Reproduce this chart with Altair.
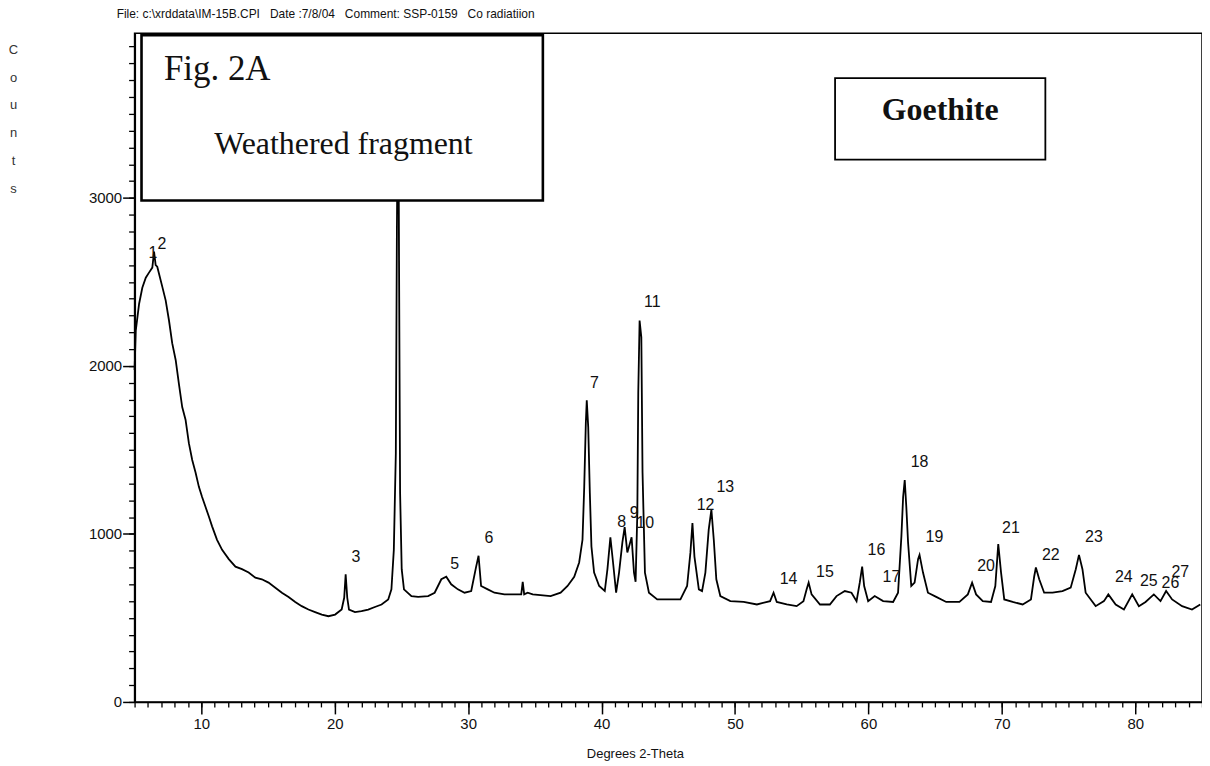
import altair as alt
import pandas as pd

# ---- diffractogram trace (degrees 2-theta, counts) ----
theta = [5.00, 5.09, 5.34, 5.58, 5.84, 6.08, 6.33, 6.46, 6.58, 6.70, 7.08, 7.33, 7.58, 7.82, 8.08,
         8.32, 8.57, 8.82, 9.07, 9.32, 9.57, 9.82, 10.06, 10.32, 10.56, 10.81, 11.18, 11.56, 12.06,
         12.56, 13.05, 13.55, 14.05, 14.54, 15.04, 15.55, 16.04, 16.54, 17.04, 17.53, 18.03, 18.53,
         19.03, 19.53, 20.03, 20.52, 20.71, 20.82, 20.94, 21.07, 21.52, 22.01, 22.51, 23.01, 23.51,
         24.01, 24.25, 24.43, 24.58, 24.66, 24.72, 24.78, 24.82, 24.90, 25.02, 25.19, 25.75, 26.25,
         27.00, 27.49, 27.99, 28.36, 28.73, 29.23, 29.73, 30.23, 30.60, 30.78, 30.97, 31.47, 31.97,
         32.72, 33.47, 33.98, 34.09, 34.20, 34.46, 34.84, 36.18, 36.93, 37.45, 37.95, 38.32, 38.57,
         38.70, 38.82, 38.89, 39.00, 39.12, 39.24, 39.44, 39.82, 40.24, 40.44, 40.66, 40.86, 41.09,
         41.31, 41.56, 41.73, 41.93, 42.06, 42.25, 42.43, 42.55, 42.68, 42.75, 42.85, 42.98, 43.07,
         43.25, 43.55, 44.17, 44.92, 45.91, 46.41, 46.66, 46.81, 46.96, 47.29, 47.53, 47.78, 48.03,
         48.23, 48.41, 48.60, 48.90, 49.65, 50.65, 51.64, 52.63, 52.89, 53.13, 53.88, 54.62, 55.13,
         55.37, 55.52, 55.74, 56.37, 57.11, 57.61, 58.23, 58.73, 59.11, 59.35, 59.53, 59.68, 59.98,
         60.47, 61.10, 61.85, 62.22, 62.47, 62.60, 62.72, 62.84, 62.97, 63.21, 63.46, 63.72, 63.83,
         64.09, 64.46, 65.08, 65.83, 66.82, 67.45, 67.77, 68.07, 68.57, 69.19, 69.51, 69.73, 69.94,
         70.18, 70.81, 71.56, 72.18, 72.42, 72.55, 72.80, 73.17, 73.80, 74.54, 75.16, 75.54, 75.78,
         76.04, 76.28, 77.03, 77.65, 77.98, 78.53, 79.15, 79.77, 80.27, 80.77, 81.39, 81.89, 82.31,
         82.76, 83.51, 84.25, 84.87]
counts = [1975, 2210, 2370, 2465, 2525, 2555, 2585, 2680, 2600, 2590, 2470, 2390, 2270, 2135, 2035,
          1895, 1755, 1680, 1540, 1440, 1365, 1280, 1220, 1160, 1105, 1045, 965, 905, 850,
          805, 790, 770, 740, 730, 710, 680, 650, 625, 595, 570, 550, 535,
          520, 510, 520, 550, 620, 760, 620, 550, 535, 540, 550, 565, 580,
          610, 670, 905, 1480, 2800, 3450, 3400, 2625, 1245, 790, 670, 630, 625,
          630, 650, 730, 745, 700, 670, 650, 660, 805, 870, 690, 670, 650,
          640, 640, 640, 715, 640, 650, 640, 630, 650, 690, 745, 830, 965,
          1280, 1660, 1795, 1635, 1245, 925, 770, 690, 660, 790, 980, 830, 650,
          770, 950, 1040, 890, 925, 980, 770, 715, 1125, 1840, 2270, 2170, 1365,
          770, 650, 610, 610, 610, 690, 890, 1065, 865, 670, 660, 770, 1025,
          1145, 965, 730, 630, 600, 595, 580, 600, 650, 595, 580, 570, 600,
          670, 710, 640, 580, 580, 630, 660, 650, 600, 710, 805, 690, 600,
          630, 600, 595, 650, 985, 1220, 1320, 1160, 950, 690, 710, 850, 875,
          770, 650, 625, 595, 595, 640, 710, 640, 600, 595, 690, 940, 770,
          610, 595, 580, 610, 745, 800, 730, 650, 650, 660, 680, 790, 875,
          790, 650, 570, 600, 640, 580, 550, 640, 570, 595, 640, 600, 660,
          610, 570, 550, 580]

# ---- peak numbers ----
peak_labels = ["1", "2", "3", "5", "6", "7", "8", "9", "10", "11", "12", "13", "14", "15", "16",
               "17", "18", "19", "20", "21", "22", "23", "24", "25", "26", "27"]
peak_x = [6.38, 7.05, 21.59, 28.99, 31.55, 39.47, 41.5, 42.45, 43.27, 43.80, 47.79, 49.27, 54.01,
          56.74, 60.60, 61.72, 63.83, 64.95, 68.82, 70.68, 73.67, 76.90, 79.14, 81.01, 82.63, 83.37]
peak_y = [2674, 2727, 860, 818, 978, 1897, 1073, 1126, 1067, 2383, 1174, 1281, 729,
          771, 907, 741, 1429, 984, 806, 1038, 872, 984, 741, 717, 706, 771]

# ---- annotation boxes ----
box_names = ["fig", "mineral"]
box_x1 = [5.52, 57.5]
box_x2 = [35.6, 73.26]
box_y1 = [2984, 3227]
box_y2 = [3968, 3713]

NB = "\u00a0"
header = ("File: c:\\xrddata\\IM-15B.CPI" + NB * 3 + "Date :7/8/04" + NB * 3 +
          "Comment: SSP-0159" + NB * 3 + "Co radiatiion")
x_ticks = [10, 20, 30, 40, 50, 60, 70, 80]
y_ticks = [0, 1000, 2000, 3000]
x_minor = list(range(5, 86))
y_minor = list(range(0, 4000, 100))

df = pd.DataFrame({"theta": theta, "counts": counts})
lab = pd.DataFrame({"label": peak_labels, "x": peak_x, "y": peak_y})
boxes = pd.DataFrame({"name": box_names, "x1": box_x1, "x2": box_x2, "y1": box_y1, "y2": box_y2})
texts = pd.DataFrame({
    "t": ["Fig. 2A", "Weathered fragment", "Goethite"],
    "x": [7.2, 20.65, 65.38],
    "y": [3701, 3262, 3464],
})

xs = alt.Scale(domain=[5, 85], nice=False, zero=False)
ys = alt.Scale(domain=[0, 3980], nice=False, zero=False)

SANS = "Liberation Sans"
SERIF = "Liberation Serif"

x_major = alt.Axis(values=x_ticks, orient="bottom", format="d", tickSize=12, tickWidth=1.5,
                   tickColor="black", labelPadding=3, labelFont=SANS, labelFontSize=15,
                   labelColor="#111", domainColor="black", domainWidth=1.5, grid=False,
                   title="Degrees 2-Theta", titleFont=SANS, titleFontSize=13,
                   titleFontWeight="normal", titleColor="#111",
                   titleX=502, titleY=52, titleAlign="center", titleBaseline="middle")
x_min = alt.Axis(values=x_minor, tickSize=5, tickWidth=1.3, tickColor="black", labels=False,
                 domain=False, grid=False, title=None, orient="bottom")
y_major = alt.Axis(values=y_ticks, orient="left", format="d", tickSize=12, tickWidth=1.5,
                   tickColor="black", labelPadding=1, labelFont=SANS, labelFontSize=15,
                   labelColor="#111", domainColor="black", domainWidth=2, grid=False,
                   title=["C", "o", "u", "n", "t", "s"], titleAngle=0, titleX=-122, titleY=10,
                   titleAlign="center", titleBaseline="top", titleLineHeight=28,
                   titleFont=SANS, titleFontSize=13, titleFontWeight="normal", titleColor="#333")
y_min = alt.Axis(values=y_minor, tickSize=6, tickWidth=1.3, tickColor="black", labels=False,
                 domain=False, grid=False, title=None, orient="left")

base = alt.Chart(df)

minor = base.mark_line(opacity=0).encode(
    x=alt.X("theta:Q", scale=xs, axis=x_min),
    y=alt.Y("counts:Q", scale=ys, axis=y_min),
)

trace = base.mark_line(color="black", strokeWidth=1.8, strokeJoin="miter").encode(
    x=alt.X("theta:Q", scale=xs, axis=x_major),
    y=alt.Y("counts:Q", scale=ys, axis=y_major),
)

fig_box = alt.Chart(boxes).transform_filter(alt.datum.name == "fig").mark_rect(
    fill="white", stroke="black", strokeWidth=2.6).encode(
    x=alt.X("x1:Q", scale=xs, axis=None), x2="x2:Q",
    y=alt.Y("y1:Q", scale=ys, axis=None), y2="y2:Q",
)
min_box = alt.Chart(boxes).transform_filter(alt.datum.name == "mineral").mark_rect(
    fill="white", stroke="black", strokeWidth=1.8).encode(
    x=alt.X("x1:Q", scale=xs, axis=None), x2="x2:Q",
    y=alt.Y("y1:Q", scale=ys, axis=None), y2="y2:Q",
)

fig_txt = alt.Chart(texts).transform_filter(alt.datum.t == "Fig. 2A").mark_text(
    font=SERIF, fontSize=35, align="left", baseline="alphabetic", color="#111").encode(
    x=alt.X("x:Q", scale=xs, axis=None), y=alt.Y("y:Q", scale=ys, axis=None), text="t:N")
wf_txt = alt.Chart(texts).transform_filter(alt.datum.t == "Weathered fragment").mark_text(
    font=SERIF, fontSize=32, align="center", baseline="alphabetic", color="#111").encode(
    x=alt.X("x:Q", scale=xs, axis=None), y=alt.Y("y:Q", scale=ys, axis=None), text="t:N")
go_txt = alt.Chart(texts).transform_filter(alt.datum.t == "Goethite").mark_text(
    font=SERIF, fontSize=32, fontWeight="bold", align="center", baseline="alphabetic",
    color="#111").encode(
    x=alt.X("x:Q", scale=xs, axis=None), y=alt.Y("y:Q", scale=ys, axis=None), text="t:N")

peaks = alt.Chart(lab).mark_text(font=SANS, fontSize=16, align="center", baseline="middle",
                                 color="#111").encode(
    x=alt.X("x:Q", scale=xs, axis=None), y=alt.Y("y:Q", scale=ys, axis=None), text="label:N")

chart = alt.layer(minor, trace, fig_box, min_box, fig_txt, wf_txt, go_txt, peaks).resolve_axis(
    x="independent", y="independent"
).properties(
    width=1071, height=671,
    autosize=alt.AutoSizeParams(type="none"),
    padding={"left": 127, "top": 24, "right": 0, "bottom": 58},
    title=alt.TitleParams(header, anchor="start", frame="group", dx=-18, offset=12,
                          font=SANS, fontSize=12, fontWeight="normal", color="#111"),
).configure_view(stroke="black", strokeWidth=1.5)

chart.save("out.html", embed_options={"renderer": "svg", "actions": False})
